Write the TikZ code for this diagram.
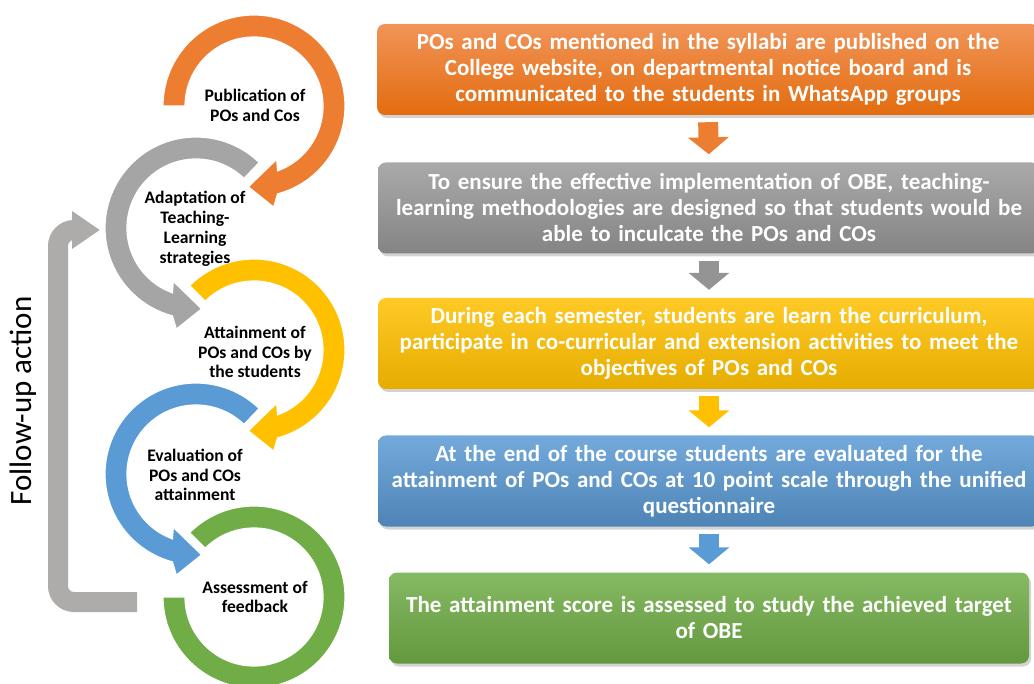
\documentclass[tikz,border=0pt]{standalone}
\usepackage{fontspec}
\setmainfont{Carlito}
\usetikzlibrary{arrows.meta,calc,shadows}

\definecolor{cOrange}{HTML}{ED7D31}
\definecolor{cGray}{HTML}{A5A5A5}
\definecolor{cYellow}{HTML}{FFC000}
\definecolor{cBlue}{HTML}{5B9BD5}
\definecolor{cGreen}{HTML}{70AD47}
\definecolor{cLoop}{HTML}{AEABAB}
\definecolor{cOrangeTop}{HTML}{F19458}
\definecolor{cOrangeBot}{HTML}{E36C0F}

\begin{document}
\begin{tikzpicture}[x=1pt, y=1pt, >=Stealth,
    box/.style={rounded corners=8pt, minimum height=91pt, text width=650pt,
        inner xsep=6pt, align=center, text=white,
        font=\bfseries\fontsize{23}{26}\selectfont,
        drop shadow={shadow xshift=2pt, shadow yshift=-3pt, opacity=0.35}},
    ring/.style={draw=white, line width=1.2pt},
    lbl/.style={align=center, font=\bfseries\fontsize{17.6}{19.8}\selectfont},
    down/.style={line width=20pt, -{Triangle[width=40pt, length=17pt]},
        shorten <=7pt, shorten >=8pt}]
    %% Background
    \useasboundingbox (0,0) rectangle (1034,-684);

    %% Centres of the rings
    \coordinate (oPub) at (254,-106);
    \coordinate (oAda) at (196,-228);
    \coordinate (oAtt) at (254,-350);
    \coordinate (oEva) at (196,-474);
    \coordinate (oAss) at (254,-597);

    %% Follow-up loop
    \draw[cLoop, line width=20pt, rounded corners=16pt,
        -{Triangle[width=36pt, length=28pt]}]
        ($(oAss)+(-117,-5)$) -- ($(oAss)+(-196,-5)$)
        -- ($(oAda)+(-138,-2)$) -- ($(oAda)+(-96,-2)$);
    \node[rotate=90, font=\fontsize{31}{36}\selectfont] (fup) at (23,-401) {Follow-up action};

    %% Rings, last one first
    \begin{scope}[shift={(oAss)}]
        \filldraw[ring, fill=cGreen] (135:91pt) arc[start angle=135, end angle=-180, radius=91pt]
            -- (180:69pt) arc[start angle=180, end angle=495, radius=69pt] -- cycle;
    \end{scope}
    \begin{scope}[shift={(oEva)}]
        \filldraw[ring, fill=cBlue] (46:91pt) arc[start angle=46, end angle=255, radius=91pt]
            -- (259:103pt) -- (274:81pt) -- (247:58pt)
            -- (250:69pt) arc[start angle=250, end angle=46, radius=69pt] -- cycle;
    \end{scope}
    \begin{scope}[shift={(oAtt)}]
        \filldraw[ring, fill=cYellow] (135:91pt) arc[start angle=135, end angle=-75, radius=91pt]
            -- (-79:103pt) -- (-94:81pt) -- (-67:58pt)
            -- (-70:69pt) arc[start angle=-70, end angle=135, radius=69pt] -- cycle;
    \end{scope}
    \begin{scope}[shift={(oAda)}]
        \filldraw[ring, fill=cGray] (46:91pt) arc[start angle=46, end angle=255, radius=91pt]
            -- (259:103pt) -- (274:81pt) -- (247:58pt)
            -- (250:69pt) arc[start angle=250, end angle=46, radius=69pt] -- cycle;
    \end{scope}
    \begin{scope}[shift={(oPub)}]
        \filldraw[ring, fill=cOrange] (180:91pt) arc[start angle=180, end angle=-75, radius=91pt]
            -- (-79:103pt) -- (-94:81pt) -- (-67:58pt)
            -- (-70:69pt) arc[start angle=-70, end angle=180, radius=69pt] -- cycle;
    \end{scope}

    %% Ring labels
    \node[lbl] (pubL) at ($(oPub)+(1,0.5)$) {Publication of\\POs and Cos};
    \node[lbl] (adaL) at ($(oAda)+(-1,-1)$) {Adaptation of\\Teaching-\\Learning\\strategies};
    \node[lbl] (attL) at ($(oAtt)+(1,-2)$) {Attainment of\\POs and COs by\\the students};
    \node[lbl] (evaL) at ($(oEva)+(-1,-1)$) {Evaluation of\\POs and COs\\attainment};
    \node[lbl] (assL) at ($(oAss)+(1,0)$) {Assessment of\\feedback};

    %% Steps
    \node[box, top color=cOrangeTop, bottom color=cOrangeBot] (b1) at (708,-69.5)
        {POs and COs mentioned in the syllabi are published on the\\College website, on departmental notice board and is\\communicated to the students in WhatsApp groups};
    \node[box, top color=cGray!95!white, bottom color=cGray!80!black] (b2) at (709,-208)
        {To ensure the effective implementation of OBE, teaching-\\learning methodologies are designed so that students would be\\able to inculcate the POs and COs};
    \node[box, top color=cYellow!85!white, bottom color=cYellow!90!black] (b3) at (709,-343.5)
        {During each semester, students are learn the curriculum,\\participate in co-curricular and extension activities to meet the\\objectives of POs and COs};
    \node[box, top color=cBlue!85!white, bottom color=cBlue!85!black] (b4) at (709,-481)
        {At the end of the course students are evaluated for the\\attainment of POs and COs at 10 point scale through the unified\\questionnaire};
    \node[box, text width=628pt, top color=cGreen!85!white, bottom color=cGreen!88!black] (b5) at (709,-618)
        {The attainment score is assessed to study the achieved target\\of OBE};

    %% Arrows between steps
    \draw[down, cOrange] (b1.south) -- (b2.north);
    \draw[down, cGray!90!black] (b2.south) -- (b3.north);
    \draw[down, cYellow] (b3.south) -- (b4.north);
    \draw[down, cBlue] (b4.south) -- (b5.north);
\end{tikzpicture}
\end{document}
